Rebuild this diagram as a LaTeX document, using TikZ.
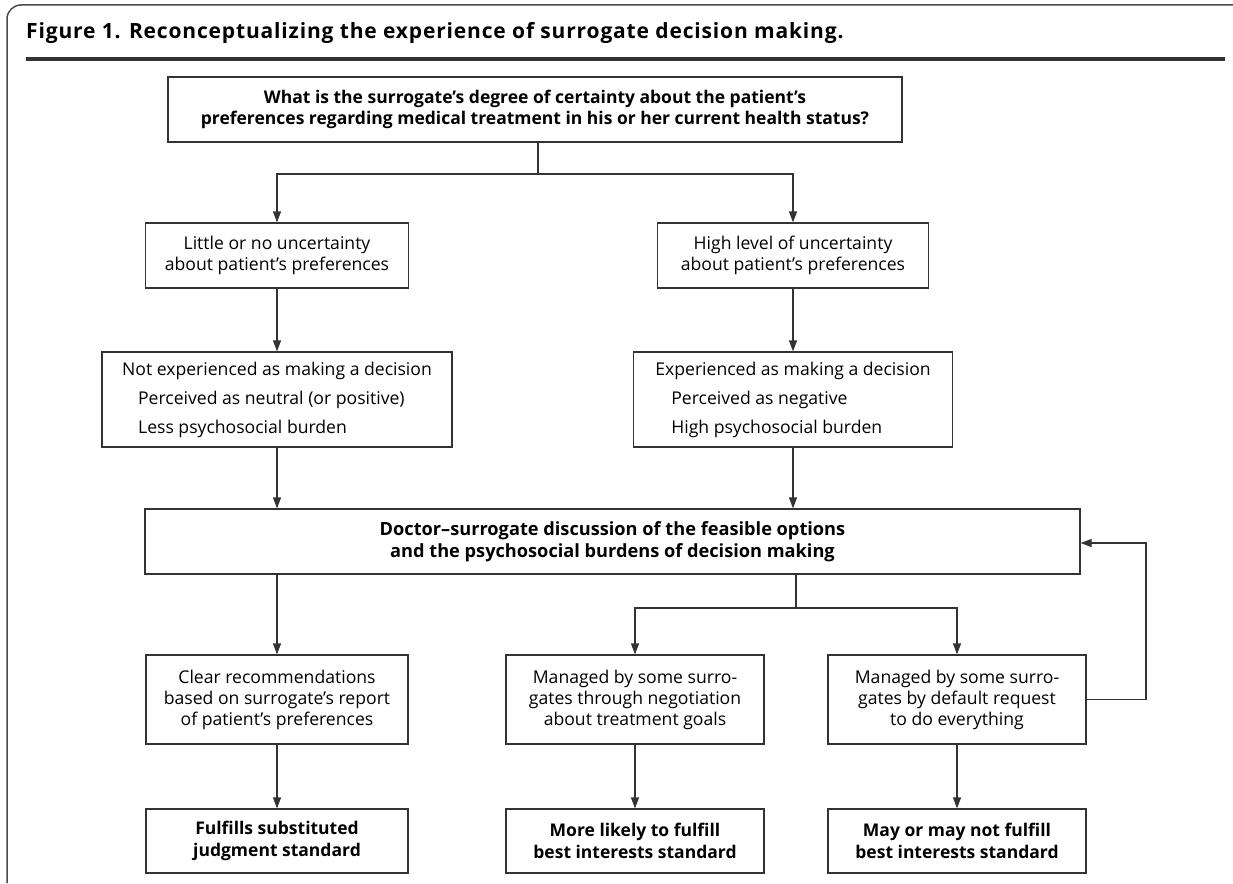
\documentclass[tikz,border=0pt]{standalone}
\usepackage{fontspec}
\setmainfont{Open Sans}
\usetikzlibrary{arrows.meta}
\definecolor{ink}{HTML}{333333}
\definecolor{framec}{HTML}{4a4a4a}
\begin{document}
\begin{tikzpicture}[x=1pt,y=-1pt,
  box/.style={draw=ink, line width=1.2pt, inner sep=0pt, align=center, text=black,
    font=\fontsize{17.6}{21}\selectfont},
  bbox/.style={box, font=\bfseries\fontsize{17.5}{21.5}\selectfont},
  lbox/.style={draw=ink, line width=1.2pt, inner sep=0pt, align=left, text=black,
    font=\fontsize{17.6}{29}\selectfont},
  conn/.style={draw=ink, line width=1.2pt},
  arr/.style={conn, -{Triangle[length=11pt,width=8pt]}}]
\useasboundingbox (0,0) rectangle (1233,883);
% frame and title
\draw[framec, line width=1.5pt, rounded corners=14pt] (7,883) -- (7,5) -- (1233,5);
\node[anchor=base west, inner sep=0pt, font=\bfseries\fontsize{21}{24}\selectfont\addfontfeatures{LetterSpace=4}] (title) at (26,39)
  {Figure 1. Reconceptualizing the experience of surrogate decision making.};
\draw[ink, line width=4pt] (26,59) -- (1225,59);
% nodes
\node[bbox, minimum width=734pt, minimum height=65pt] (q) at (535,109.5)
  {What is the surrogate’s degree of certainty about the patient’s\\preferences regarding medical treatment in his or her current health status?};
\node[box, minimum width=263pt, minimum height=65pt] (a1) at (277,255.5)
  {Little or no uncertainty\\about patient’s preferences};
\node[box, minimum width=271pt, minimum height=65pt] (b1) at (793,255.5)
  {High level of uncertainty\\about patient’s preferences};
\node[lbox, minimum width=350pt, minimum height=95pt] (a2) at (277,399.5)
  {Not experienced as making a decision\\\hspace*{16pt}Perceived as neutral (or positive)\\\hspace*{16pt}Less psychosocial burden};
\node[lbox, minimum width=319pt, minimum height=95pt] (b2) at (793,399.5)
  {Experienced as making a decision\\\hspace*{16pt}Perceived as negative\\\hspace*{16pt}High psychosocial burden};
\node[bbox, minimum width=935pt, minimum height=65pt, font=\bfseries\fontsize{18.2}{22}\selectfont] (d) at (612.5,541.5)
  {Doctor--surrogate discussion of the feasible options\\and the psychosocial burdens of decision making};
\node[box, minimum width=262pt, minimum height=89pt] (c1) at (277,699.5)
  {Clear recommendations\\based on surrogate’s report\\of patient’s preferences};
\node[box, minimum width=258pt, minimum height=89pt] (c2) at (635,699.5)
  {Managed by some surro-\\gates through negotiation\\about treatment goals};
\node[box, minimum width=258pt, minimum height=89pt] (c3) at (957,699.5)
  {Managed by some surro-\\gates by default request\\to do everything};
\node[bbox, minimum width=262pt, minimum height=64pt] (e1) at (277,841)
  {Fulfills substituted\\judgment standard};
\node[bbox, minimum width=258pt, minimum height=64pt] (e2) at (635,841)
  {More likely to fulfill\\best interests standard};
\node[bbox, minimum width=258pt, minimum height=64pt] (e3) at (957,841)
  {May or may not fulfill\\best interests standard};
% connectors
\coordinate (s1) at (538,174);
\coordinate (s2) at (796,608);
\coordinate (fb) at (1146,543);
\draw[conn] (q.south -| s1) -- (s1);
\draw[arr] (s1) -| (a1.north);
\draw[arr] (s1) -| (b1.north);
\draw[arr] (a1.south) -- (a2.north);
\draw[arr] (b1.south) -- (b2.north);
\draw[arr] (a2.south) -- (a2.south |- d.north);
\draw[arr] (b2.south) -- (b2.south |- d.north);
\draw[arr] (c1.north |- d.south) -- (c1.north);
\draw[conn] (s2 |- d.south) -- (s2);
\draw[arr] (s2) -| (c2.north);
\draw[arr] (s2) -| (c3.north);
\draw[arr] (c1.south) -- (e1.north);
\draw[arr] (c2.south) -- (e2.north);
\draw[arr] (c3.south) -- (e3.north);
\draw[arr] (c3.east) -| (fb) -- (fb -| d.east);
\end{tikzpicture}
\end{document}
